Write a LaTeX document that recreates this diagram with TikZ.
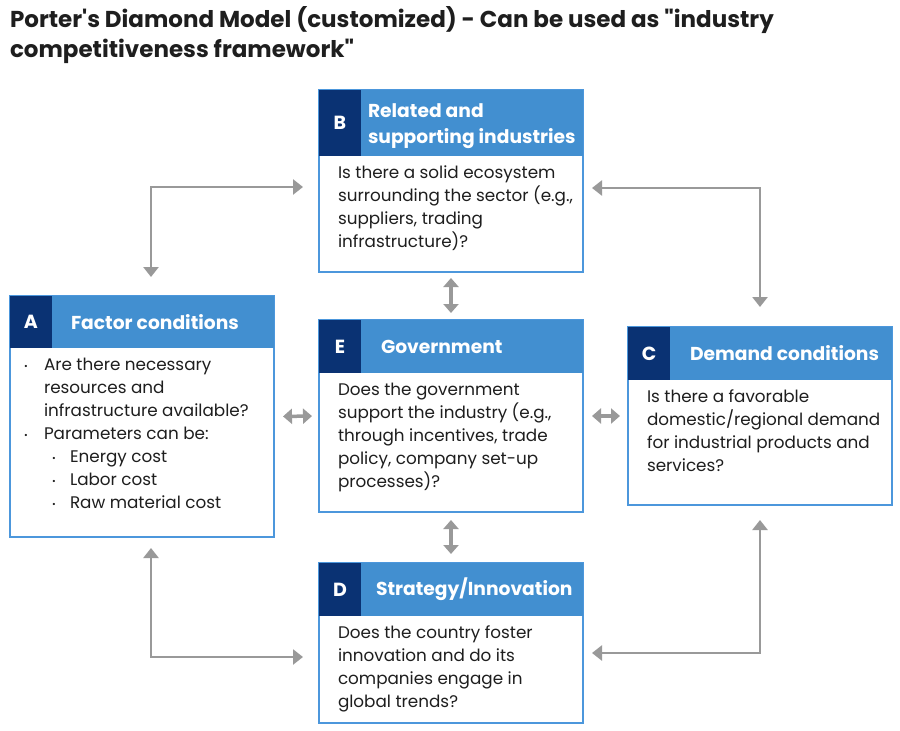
\documentclass[tikz,border=0pt]{standalone}
\usepackage{fontspec}
\newfontfamily\popfont{Poppins}
\usetikzlibrary{arrows.meta}
\definecolor{headblue}{HTML}{428FD0}
\definecolor{navy}{HTML}{0A3273}
\definecolor{frameblue}{HTML}{4C97DC}
\definecolor{linkgray}{HTML}{999999}
\definecolor{ink}{HTML}{1E1E1E}
\newcommand{\bul}{{\fontsize{9}{9}\selectfont\raisebox{1pt}{•}}}
\begin{document}
\begin{tikzpicture}[
  x=1pt, y=-1pt,
  every node/.style = {font=\popfont, inner sep=0pt, outer sep=0pt},
  panel/.style = {draw=frameblue, line width=2pt, fill=white, anchor=north west, minimum width=264pt},
  letterbox/.style = {fill=navy, text=white, anchor=north west, minimum width=42pt, font=\popfont\bfseries\fontsize{19}{19}\selectfont},
  headbox/.style = {fill=headblue, anchor=north west, minimum width=222pt},
  headtext/.style = {text=white, anchor=west, align=left, font=\popfont\bfseries\fontsize{18.7}{26}\selectfont},
  bodytext/.style = {text=ink, anchor=north west, align=left, inner xsep=19pt, inner ysep=10pt, font=\popfont\fontsize{16.8}{23}\selectfont},
  link/.style = {draw=linkgray, line width=2.5pt, {Triangle[length=10pt,width=15pt]}-{Triangle[length=10pt,width=15pt]}},
  stub/.style = {draw=linkgray, line width=3.5pt, {Triangle[length=9pt,width=15pt]}-{Triangle[length=9pt,width=15pt]}}
]
  \useasboundingbox (0,0) rectangle (900,731);

  \node[anchor=north west, align=left, text=ink, font=\popfont\bfseries\fontsize{23}{30}\selectfont] (title) at (10,6)
    {Porter's Diamond Model (customized) - Can be used as "industry\\competitiveness framework"};

  % A
  \node[panel, minimum height=241pt] (factor) at (10,296) {};
  \node[letterbox, minimum height=52pt] (factor-l) at (factor.north west) {A};
  \node[headbox, minimum height=52pt] (factor-h) at (factor-l.north east) {};
  \node[headtext] (factor-ht) at ([xshift=19pt]factor-h.west) {Factor conditions};
  \node[bodytext, inner xsep=14pt] (factor-t) at (factor-l.south west)
    {\makebox[20pt][l]{\bul}Are there necessary\\
     \hspace*{20pt}resources and\\
     \hspace*{20pt}infrastructure available?\\
     \makebox[20pt][l]{\bul}Parameters can be:\\
     \hspace*{28pt}\makebox[18pt][l]{\bul}Energy cost\\
     \hspace*{28pt}\makebox[18pt][l]{\bul}Labor cost\\
     \hspace*{28pt}\makebox[18pt][l]{\bul}Raw material cost};

  % B
  \node[panel, minimum height=182pt] (related) at (319,90) {};
  \node[letterbox, minimum height=66pt] (related-l) at (related.north west) {B};
  \node[headbox, minimum height=66pt] (related-h) at (related-l.north east) {};
  \node[headtext] (related-ht) at ([xshift=7pt,yshift=-3pt]related-h.west) {Related and\\supporting industries};
  \node[bodytext] (related-t) at (related-l.south west)
    {Is there a solid ecosystem\\surrounding the sector (e.g.,\\suppliers, trading\\infrastructure)?};

  % E
  \node[panel, minimum height=192pt] (govt) at (319,320) {};
  \node[letterbox, minimum height=53pt] (govt-l) at (govt.north west) {E};
  \node[headbox, minimum height=53pt] (govt-h) at (govt-l.north east) {};
  \node[headtext] (govt-ht) at ([xshift=20pt]govt-h.west) {Government};
  \node[bodytext] (govt-t) at (govt-l.south west)
    {Does the government\\support the industry (e.g.,\\through incentives, trade\\policy, company set-up\\processes)?};

  % C
  \node[panel, minimum height=178pt] (demand) at (628,327) {};
  \node[letterbox, minimum height=53pt] (demand-l) at (demand.north west) {C};
  \node[headbox, minimum height=53pt] (demand-h) at (demand-l.north east) {};
  \node[headtext] (demand-ht) at ([xshift=20pt]demand-h.west) {Demand conditions};
  \node[bodytext] (demand-t) at (demand-l.south west)
    {Is there a favorable\\domestic/regional demand\\for industrial products and\\services?};

  % D
  \node[panel, minimum height=160pt] (strategy) at (319,563) {};
  \node[letterbox, minimum height=53pt] (strategy-l) at (strategy.north west) {D};
  \node[headbox, minimum height=53pt] (strategy-h) at (strategy-l.north east) {};
  \node[headtext] (strategy-ht) at ([xshift=15pt]strategy-h.west) {Strategy/Innovation};
  \node[bodytext] (strategy-t) at (strategy-l.south west)
    {Does the country foster\\innovation and do its\\companies engage in\\global trends?};

  \draw[link, shorten <=16pt, shorten >=19pt] ([yshift=-6pt]related.west) -| ([xshift=9pt]factor.north);
  \draw[link, shorten <=9pt, shorten >=20pt] ([yshift=-7pt]related.east) -| (demand.north);
  \draw[link, shorten <=11pt, shorten >=16pt] ([xshift=9pt]factor.south) |- ([yshift=-14pt]strategy.west);
  \draw[link, shorten <=9pt, shorten >=15pt] ([yshift=-10pt]strategy.east) -| (demand.south);

  \draw[stub, shorten <=6pt, shorten >=7pt] (related.south) -- (govt.north);
  \draw[stub, shorten <=9pt, shorten >=7pt] (factor.east) -- (govt.west);
  \draw[stub, shorten <=9pt, shorten >=8pt] (govt.east) -- (demand.west);
  \draw[stub, shorten <=8pt, shorten >=9pt] (govt.south) -- (strategy.north);
\end{tikzpicture}
\end{document}
